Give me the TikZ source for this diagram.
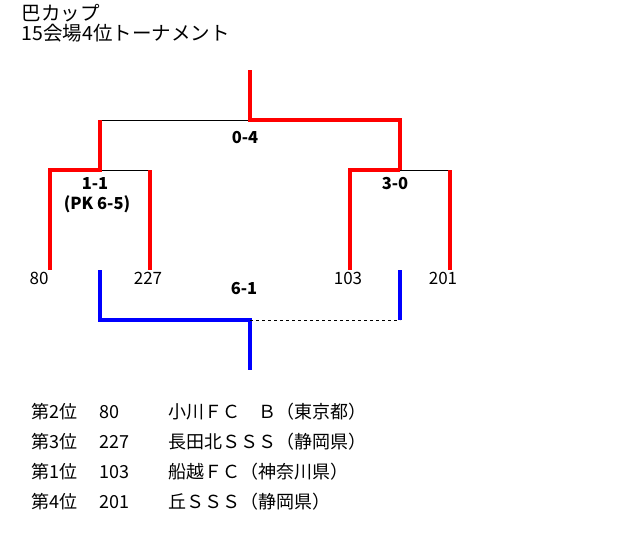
\documentclass[tikz,border=0pt]{standalone}
\usepackage{fontspec}
\setmainfont{Noto Sans CJK JP}
\usetikzlibrary{arrows.meta}

\begin{document}
\begin{tikzpicture}[x=1pt,y=-1pt,
  win/.style={red,line width=4pt},
  lose/.style={black,line width=0.8pt},
  final/.style={blue,line width=4pt},
  score/.style={font=\fontsize{16.5}{18}\selectfont\bfseries},
  team/.style={font=\fontsize{17}{19}\selectfont},
  title/.style={font=\fontsize{19.5}{21}\selectfont,anchor=west},
  rowtext/.style={font=\fontsize{18}{20}\selectfont,anchor=west}]
\useasboundingbox (0,0) rectangle (640,550);
% title
\node[title] (t1) at (18,13) {巴カップ};
\node[title] (t2) at (18,33) {15会場4位トーナメント};
% bracket points
\coordinate (top) at (250,70);
\coordinate (fin) at (250,120);
\coordinate (sl) at (100,120);
\coordinate (sr) at (400,120);
\coordinate (al) at (50,170);
\coordinate (am) at (100,170);
\coordinate (ar) at (150,170);
\coordinate (bl) at (350,170);
\coordinate (bm) at (400,170);
\coordinate (br) at (450,170);
\foreach \p/\x in {e80/50,e227/150,e103/350,e201/450} {
\coordinate (\p) at (\x,270);
}
% teams
\node[team] (n80) at (39,278) {80};
\node[team] (n227) at (148,278) {227};
\node[team] (n103) at (348,278) {103};
\node[team] (n201) at (443,278) {201};
% final
\draw[lose] (sl) -- (fin);
\draw[win] (top) -- (fin) -- (sr) -- (bm);
\node[score] (s0) at (245,138) {0-4};
% semifinals
\draw[lose] (am) -- (ar);
\draw[win] (sl) -- (am) -- (al) -- (e80);
\draw[win] (ar) -- (e227);
\node[score] (s1) at (95,184) {1-1};
\node[score] (s1pk) at (97,204) {(PK 6-5)};
\draw[lose] (bm) -- (br);
\draw[win] (bm) -- (bl) -- (e103);
\draw[win] (br) -- (e201);
\node[score] (s2) at (395,184) {3-0};
% third place match
\coordinate (ql) at (100,270);
\coordinate (qr) at (400,270);
\coordinate (qlb) at (100,320);
\coordinate (qm) at (250,320);
\coordinate (qrb) at (400,320);
\coordinate (qbot) at (250,370);
\draw[final] (ql) -- (qlb) -- (qm) -- (qbot);
\draw[lose,dashed] (qm) -- (qrb);
\draw[final] (qrb) -- (qr);
\node[score] (s3) at (244,289) {6-1};
% results
\foreach \rank/\num/\club [count=\i] in {第2位/80/小川ＦＣ　Ｂ（東京都）,
  第3位/227/長田北ＳＳＳ（静岡県）,
  第1位/103/船越ＦＣ（神奈川県）,
  第4位/201/丘ＳＳＳ（静岡県）} {
\node[rowtext] (r\i) at (28,382+30*\i) {\rank};
\node[rowtext] (m\i) at (96,382+30*\i) {\num};
\node[rowtext] (c\i) at (165,382+30*\i) {\club};
}
\end{tikzpicture}
\end{document}
